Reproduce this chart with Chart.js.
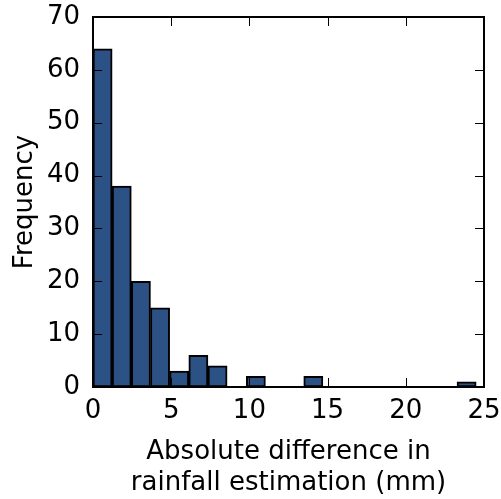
<!DOCTYPE html>
<html>
<head>
<meta charset="utf-8">
<script src="https://cdn.jsdelivr.net/npm/chart.js@4.4.0/dist/chart.umd.min.js"></script>
<style>
  html, body { margin: 0; padding: 0; background: #fff; }
  #wrap { width: 501px; height: 499px; }
</style>
</head>
<body>
<div id="wrap"><canvas id="histChart"></canvas></div>
<script>
// histogram bins (lower edges, width ~1.225 mm)
var binStarts = [0, 1.225, 2.45, 3.675, 4.9, 6.125, 7.35, 8.575, 9.8, 11.025,
                 12.25, 13.475, 14.7, 15.925, 17.15, 18.375, 19.6, 20.825, 22.05, 23.275];
var binWidth = 1.225;
var counts = [64, 38, 20, 15, 3, 6, 4, 0, 2, 0, 0, 2, 0, 0, 0, 0, 0, 0, 0, 1];

var xTicks = [0, 5, 10, 15, 20, 25];
var yTicks = [0, 10, 20, 30, 40, 50, 60, 70];
var xTitle = ['Absolute difference in', 'rainfall estimation (mm)'];
var yTitle = 'Frequency';

var fontFamily = '"DejaVu Sans", sans-serif';
var fontSize = 26;

var histData = [];
for (var i = 0; i < counts.length; i++) {
    histData.push({ x: binStarts[i] + binWidth / 2, y: counts[i] });
}

// frame on all four sides and ticks pointing inward, like matplotlib classic
var frameTicks = {
    id: 'frameTicks',
    afterDatasetsDraw: function (chart) {
        var ctx = chart.ctx;
        var a = chart.chartArea;
        var xs = chart.scales.x, ys = chart.scales.y;
        var len = 9;
        ctx.save();
        ctx.strokeStyle = '#000';
        ctx.lineWidth = 1;
        ctx.beginPath();
        xTicks.forEach(function (v) {
            var px = Math.round(xs.getPixelForValue(v)) + 0.5;
            ctx.moveTo(px, a.bottom); ctx.lineTo(px, a.bottom - len);
            ctx.moveTo(px, a.top); ctx.lineTo(px, a.top + len);
        });
        yTicks.forEach(function (v) {
            var py = Math.round(ys.getPixelForValue(v)) + 0.5;
            ctx.moveTo(a.left, py); ctx.lineTo(a.left + len, py);
            ctx.moveTo(a.right, py); ctx.lineTo(a.right - len, py);
        });
        ctx.stroke();
        ctx.lineWidth = 2;
        ctx.strokeRect(a.left, a.top, a.right - a.left, a.bottom - a.top);
        ctx.restore();
    }
};

var config = {
    type: 'bar',
    data: {
        datasets: [{
            label: 'Frequency',
            data: histData,
            backgroundColor: '#2c5185',
            borderColor: '#000',
            borderWidth: 2,
            borderSkipped: false,
            barPercentage: 1.0,
            categoryPercentage: 1.0
        }]
    },
    options: {
        responsive: true,
        maintainAspectRatio: false,
        animation: false,
        layout: { padding: { top: 17, right: 17, left: 0, bottom: 0 } },
        plugins: {
            legend: { display: false },
            tooltip: { enabled: false }
        },
        scales: {
            x: {
                type: 'linear',
                min: 0,
                max: 25,
                offset: false,
                grid: { display: false, drawTicks: false },
                border: { display: false },
                afterFit: function (scale) {
                    scale.height = 112;
                    scale.paddingLeft = 0;
                    scale.paddingRight = 0;
                },
                afterBuildTicks: function (scale) {
                    scale.ticks = xTicks.map(function (v) { return { value: v }; });
                },
                ticks: {
                    color: '#000',
                    padding: 9,
                    maxRotation: 0,
                    font: { family: fontFamily, size: fontSize }
                },
                title: {
                    display: true,
                    text: xTitle,
                    color: '#000',
                    padding: { top: 6, bottom: 0 },
                    font: { family: fontFamily, size: fontSize, lineHeight: 1.2 }
                }
            },
            y: {
                min: 0,
                max: 70,
                grid: { display: false, drawTicks: false },
                border: { display: false },
                afterFit: function (scale) {
                    scale.width = 93;
                    scale.paddingTop = 0;
                    scale.paddingBottom = 0;
                },
                afterBuildTicks: function (scale) {
                    scale.ticks = yTicks.map(function (v) { return { value: v }; });
                },
                ticks: {
                    color: '#000',
                    padding: 13,
                    font: { family: fontFamily, size: fontSize }
                },
                title: {
                    display: true,
                    text: yTitle,
                    color: '#000',
                    padding: { top: 10, bottom: 0 },
                    font: { family: fontFamily, size: fontSize }
                }
            }
        }
    },
    plugins: [frameTicks]
};

var histChart = new Chart(document.getElementById('histChart'), config);
</script>
</body>
</html>
